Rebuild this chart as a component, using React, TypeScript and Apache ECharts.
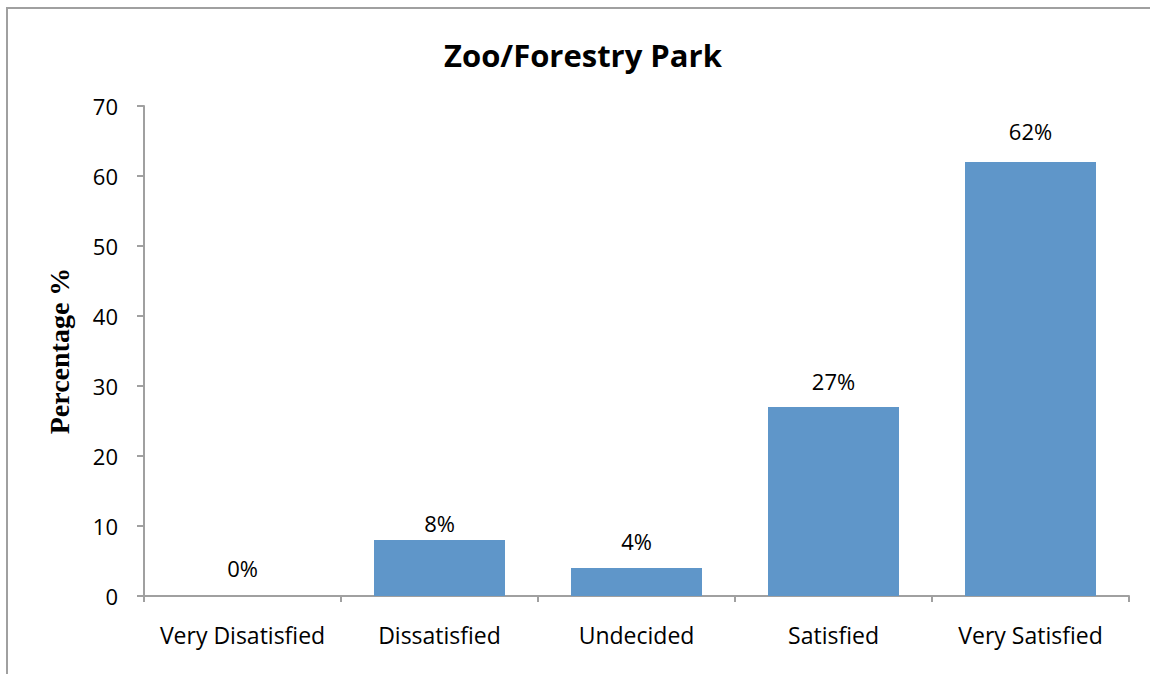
import React, { useEffect, useRef } from "react";
import * as echarts from "echarts";

const categories = ["Very Disatisfied", "Dissatisfied", "Undecided", "Satisfied", "Very Satisfied"];
const values = [0, 8, 4, 27, 62];
const valueLabels = ["0%", "8%", "4%", "27%", "62%"];
const labelGaps = [17, 6, 16, 15, 20];
const titleText = "Zoo/Forestry Park";
const yAxisTitle = "Percentage %";

export default function App() {
  const ref = useRef<HTMLDivElement>(null);
  useEffect(() => {
    document.body.style.margin = "0";
    document.body.style.overflow = "hidden";
    const chart = echarts.init(ref.current!, null, { renderer: "svg" });
    chart.setOption({
      animation: false,
      backgroundColor: "#ffffff",
      title: {
        text: titleText,
        left: 439,
        top: 34,
        textStyle: { fontFamily: "Open Sans", fontWeight: "bold", fontSize: 31, color: "#000" },
      },
      graphic: [
        {
          type: "rect",
          shape: { x: 7, y: 8, width: 1170, height: 700 },
          style: { fill: "none", stroke: "#a0a0a0", lineWidth: 2 },
          silent: true,
        },
      ],
      grid: { left: 144, right: 21, top: 106, bottom: 78 },
      xAxis: {
        type: "category",
        data: categories,
        axisLine: { lineStyle: { color: "#a0a0a0", width: 2 } },
        axisTick: { show: true, interval: 0, length: 6, lineStyle: { color: "#a0a0a0", width: 2 } },
        axisLabel: { interval: 0, color: "#000", fontFamily: "Open Sans", fontSize: 23, margin: 27 },
      },
      yAxis: {
        type: "value",
        min: 0,
        max: 70,
        interval: 10,
        name: yAxisTitle,
        nameLocation: "middle",
        nameGap: 71,
        nameTextStyle: { fontFamily: "Liberation Serif", fontWeight: "bold", fontSize: 28, color: "#000" },
        axisLine: { show: true, lineStyle: { color: "#a0a0a0", width: 2 } },
        axisTick: { show: true, length: 7, lineStyle: { color: "#a0a0a0", width: 2 } },
        splitLine: { show: false },
        axisLabel: { color: "#000", fontFamily: "Open Sans", fontSize: 22, margin: 26 },
      },
      series: [
        {
          type: "bar",
          barWidth: 131,
          itemStyle: { color: "#5f96c9" },
          data: values.map((v, i) => ({
            value: v,
            label: {
              show: true,
              position: "top",
              distance: labelGaps[i],
              formatter: valueLabels[i],
              color: "#000",
              fontFamily: "Open Sans",
              fontSize: 22,
            },
          })),
        },
      ],
    });
    return () => chart.dispose();
  }, []);
  return <div ref={ref} style={{ width: 1150, height: 674 }} />;
}
